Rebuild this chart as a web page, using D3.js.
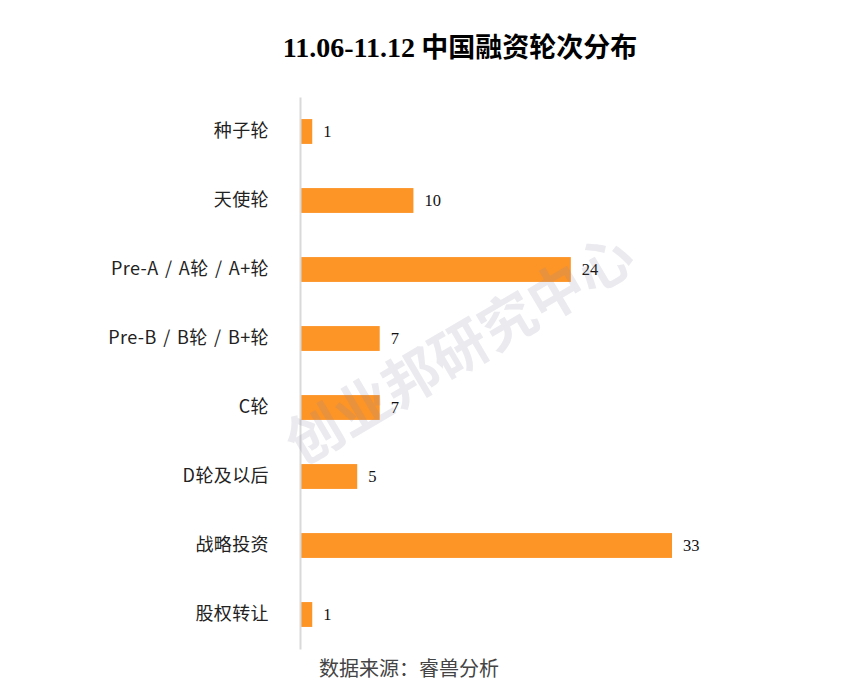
<!DOCTYPE html>
<html><head><meta charset="utf-8">
<script src="https://cdn.jsdelivr.net/npm/d3@7"></script>
<style>body{margin:0;background:#fff;} svg{display:block;}</style>
</head><body>
<svg id="chart" width="846" height="700"></svg>
<script>
const categories = ["种子轮","天使轮","Pre-A / A轮 / A+轮","Pre-B / B轮 / B+轮","C轮","D轮及以后","战略投资","股权转让"];
const values = [1,10,24,7,7,5,33,1];
const titleNum = "11.06-11.12";
const titleText = " 中国融资轮次分布";
const sourceText = "数据来源：睿兽分析";
const watermark = "创业邦研究中心";

(function(){
const svg = d3.select("#chart");
const plotLeft = 301, plotTop = 97, plotBottom = 649;
const x = d3.scaleLinear().domain([0, 33]).range([plotLeft, 672]);
const y = d3.scaleBand().domain(categories).range([plotTop, plotBottom]).paddingInner(0.64).paddingOuter(0.32);

// title
const t = svg.append("text").attr("x", 460).attr("y", 57).attr("text-anchor","middle")
  .attr("font-weight","bold").attr("font-size", 28).attr("fill","#000");
t.append("tspan").attr("font-family","'Liberation Serif','Times New Roman',serif").text(titleNum);
t.append("tspan").attr("font-family","'Noto Sans CJK SC',sans-serif").attr("font-size",27).text(titleText);

// bars
svg.append("g").selectAll("rect").data(values).join("rect")
  .attr("x", plotLeft).attr("y", (d,i)=>y(categories[i]))
  .attr("width", d=>x(d)-plotLeft).attr("height", y.bandwidth())
  .attr("fill","#fd9426");

// value labels
svg.append("g").selectAll("text").data(values).join("text")
  .attr("x", d=>x(d)+11).attr("y", (d,i)=>y(categories[i])+y.bandwidth()/2)
  .attr("dy","0.35em").attr("font-family","'Liberation Serif','Times New Roman',serif")
  .attr("font-size",16.5).attr("fill","#111").text(d=>d);

// axis
const yAxis = d3.axisLeft(y).tickSize(0).tickPadding(31);
const ag = svg.append("g").attr("transform",`translate(${plotLeft-1},0)`).call(yAxis);
ag.select(".domain").attr("stroke","#d9d9d9").attr("stroke-width",2);
ag.selectAll(".tick text").attr("font-family","'Noto Sans CJK SC','Noto Sans',sans-serif")
  .attr("font-size",18).attr("word-spacing",2).attr("letter-spacing",0.4).attr("fill","#222");

// watermark
svg.append("text").attr("transform","translate(460,350) rotate(-30.5)")
  .attr("text-anchor","middle").attr("dy","0.35em")
  .attr("font-family","'Noto Sans CJK SC',sans-serif").attr("font-weight","bold")
  .attr("font-size",56).attr("fill","#8c8ca8").attr("fill-opacity",0.18).text(watermark);

// source
svg.append("text").attr("x",319).attr("y",676).attr("font-family","'Noto Sans CJK SC',sans-serif")
  .attr("font-size",20).attr("fill","#444").text(sourceText);
})();
</script>
</body></html>
